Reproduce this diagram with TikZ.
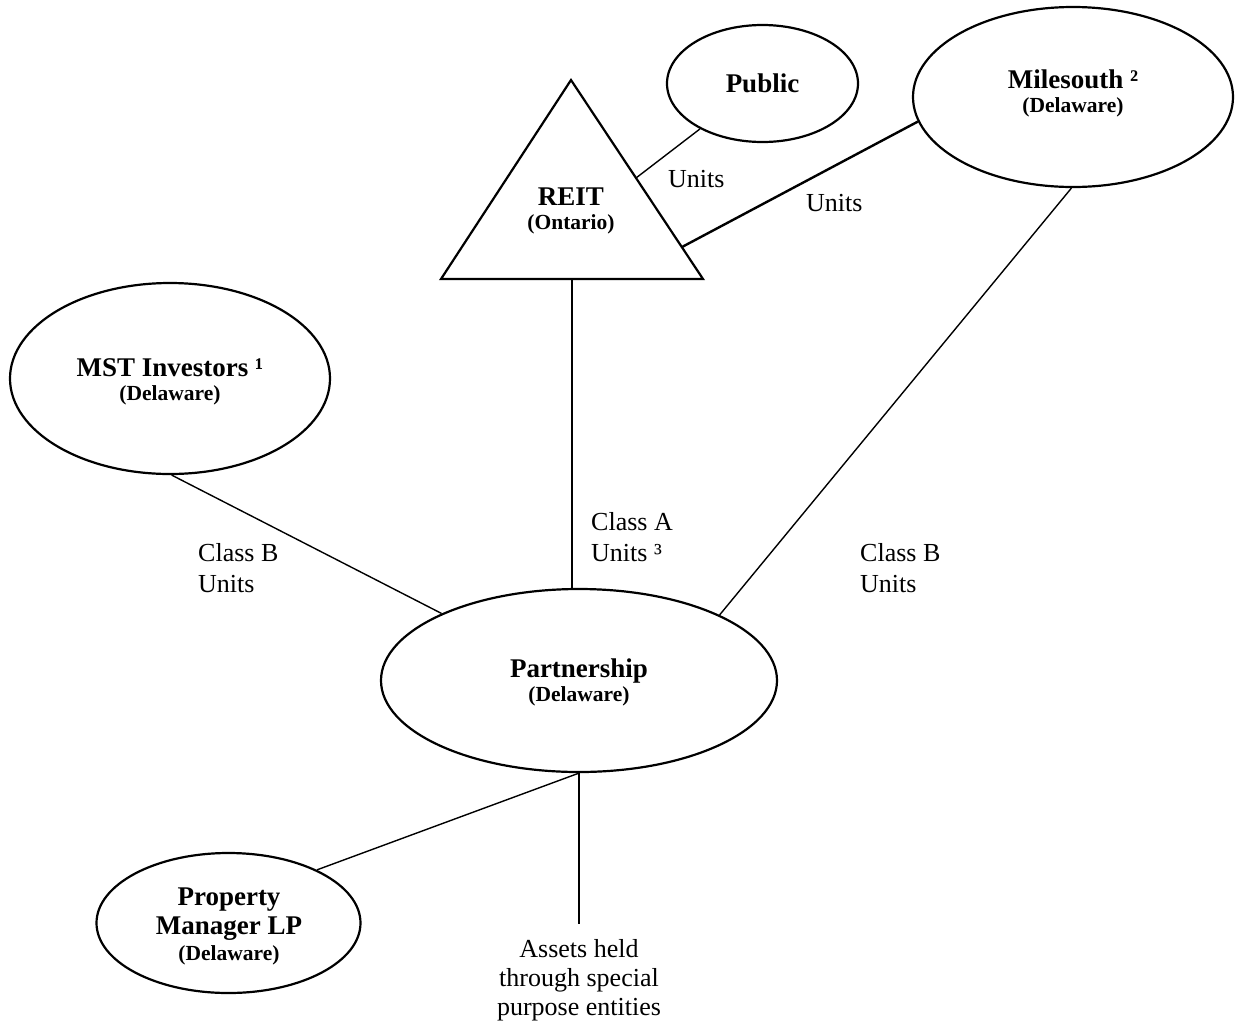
\documentclass[tikz,border=0pt]{standalone}
\usepackage{fontspec}
\setmainfont{Liberation Serif}
\usetikzlibrary{shapes.geometric}
\tikzset{
  ent/.style={ellipse,draw,line width=2.2pt,inner sep=0pt},
  conn/.style={line width=1.4pt},
  thickconn/.style={line width=2.4pt},
  ttl/.style={anchor=base,inner sep=0pt,font=\fontsize{27}{30}\selectfont\bfseries},
  sub/.style={anchor=base,inner sep=0pt,font=\fontsize{21.5}{24}\selectfont\bfseries},
  lbl/.style={anchor=base west,inner sep=0pt,font=\fontsize{26}{30}\selectfont},
  clbl/.style={anchor=base,inner sep=0pt,font=\fontsize{26}{30}\selectfont}
}
\begin{document}
\begin{tikzpicture}[x=1pt,y=-1pt]
\useasboundingbox[fill=white] (0,0) rectangle (1235,1029);

% entities
\node[ent,minimum width=191pt,minimum height=117pt] (pub) at (762.5,83.5) {};
\node[ent,minimum width=320pt,minimum height=180pt] (mile) at (1073,97) {};
\node[ent,minimum width=320pt,minimum height=191pt] (mst) at (170,378.5) {};
\node[ent,minimum width=396pt,minimum height=183pt] (part) at (579,680.5) {};
\node[ent,minimum width=264pt,minimum height=140pt] (pm) at (228.5,923) {};

% REIT triangle
\coordinate (rtop) at (571,80);
\coordinate (rbl) at (441,279);
\coordinate (rbr) at (703,279);
\draw[line width=2.2pt,line join=miter] (rtop) -- (rbl) -- (rbr) -- cycle;
\coordinate (rside1) at (636,178);
\coordinate (rside2) at (682,247);
\coordinate (rbase) at (572,279);

% texts
\node[ttl] (tpub) at (762.5,92) {Public};
\node[ttl] (tmile) at (1073,88) {Milesouth ²};
\node[sub] (smile) at (1073,112) {(Delaware)};
\node[ttl] (treit) at (571,205) {REIT};
\node[sub] (sreit) at (571,229) {(Ontario)};
\node[ttl] (tmst) at (170,376) {MST Investors ¹};
\node[sub] (smst) at (170,400) {(Delaware)};
\node[ttl] (tpart) at (579,677) {Partnership};
\node[sub] (spart) at (579,701) {(Delaware)};
\node[ttl] (tpm1) at (229,905) {Property};
\node[ttl] (tpm2) at (229,934) {Manager LP};
\node[sub] (spm) at (229,960) {(Delaware)};

% connectors
\draw[conn] (pub.216.3) -- (rside1);
\draw[thickconn] (mile.189.1) -- (rside2);
\draw[conn] (mile.269.4) -- (part.25.1);
\draw[conn] (mst.271.2) -- (part.154.4);
\draw[conn] (rbase) -- (rbase |- part.north);
\coordinate (assetstop) at ([yshift=-151pt]part.south);
\draw[conn] (part.south) -- (assetstop);
\draw[conn] (part.south) -- (pm.31.5);

% labels
\node[lbl] (l1) at (668,187) {Units};
\node[lbl] (l2) at (806,211) {Units};
\node[lbl] (l3a) at (591,530) {Class A};
\node[lbl] (l3b) at (591,561) {Units ³};
\node[lbl] (l4a) at (198,561) {Class B};
\node[lbl] (l4b) at (198,592) {Units};
\node[lbl] (l5a) at (860,561) {Class B};
\node[lbl] (l5b) at (860,592) {Units};
\node[clbl] (a1) at (579,957) {Assets held};
\node[clbl] (a2) at (579,986) {through special};
\node[clbl] (a3) at (579,1015) {purpose entities};
\end{tikzpicture}
\end{document}
